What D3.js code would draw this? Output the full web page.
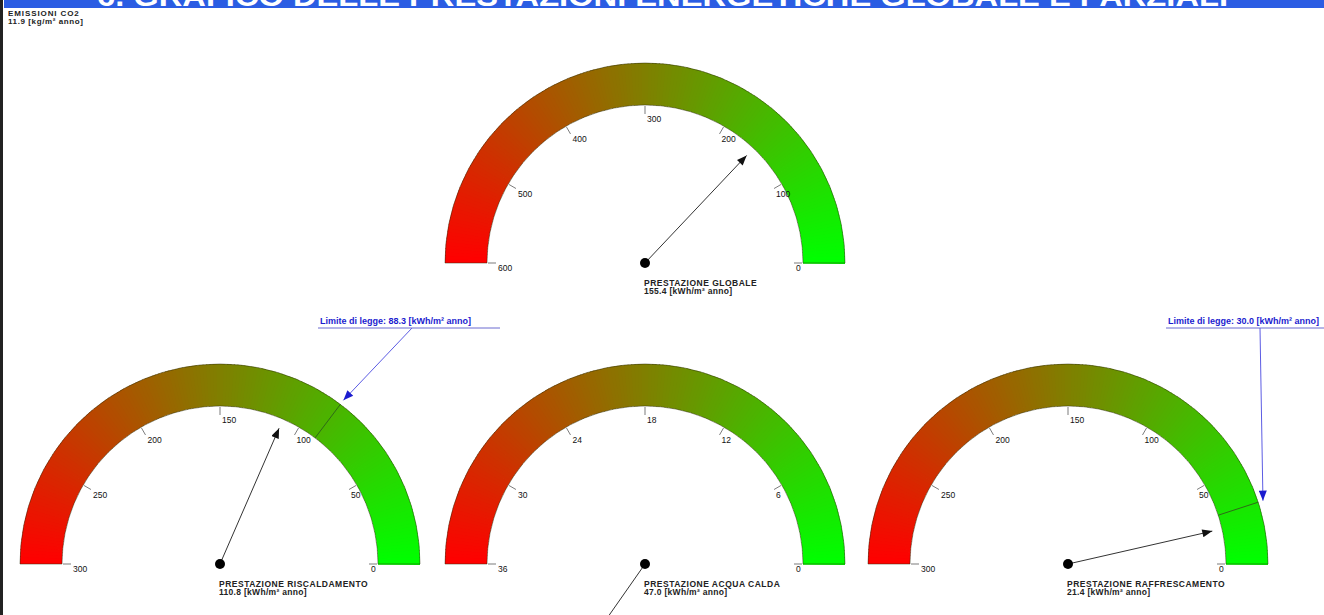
<!DOCTYPE html>
<html>
    <head>
        <meta lang="it" charset="utf-8">
        <style>
            body { margin: 0; background: white; }
            svg { display: block; font-family: 'Liberation Sans', Arial, sans-serif; }
        </style>
    </head>
    <body>
        <div id="d3render"></div>
    </body>
    <script src="https://d3js.org/d3.v7.min.js"></script>
    <script>
        // values
        const titleText = '6. GRAFICO DELLE PRESTAZIONI ENERGETICHE GLOBALE E PARZIALI';
        const emissionLabel = 'EMISSIONI CO2';
        const emissionValue = '11.9 [kg/m² anno]';
        const unitLabel = '[kWh/m² anno]';

        const gaugeNames = ['PRESTAZIONE GLOBALE', 'PRESTAZIONE RISCALDAMENTO', 'PRESTAZIONE ACQUA CALDA', 'PRESTAZIONE RAFFRESCAMENTO'];
        const gaugeMax = [600, 300, 36, 300];
        const gaugeTicks = [
            [0, 100, 200, 300, 400, 500, 600],
            [0, 50, 100, 150, 200, 250, 300],
            [0, 6, 12, 18, 24, 30, 36],
            [0, 50, 100, 150, 200, 250, 300]
        ];
        const gaugeValues = [155.4, 110.8, 47.0, 21.4];
        const limitValues = [null, 88.3, null, 30.0];

        const width = 1324;
        const height = 615;

        // gauge centres (layout only)
        const centers = [[645, 263], [220, 564], [645, 564], [1068, 564]];
        const outerR = 200;
        const innerR = 158;
        const needleLen = 148;

        const svg = d3.select('#d3render')
            .append('svg')
            .attr('width', width)
            .attr('height', height)
            .attr('viewBox', [0, 0, width, height])
            .style('background-color', 'white');

        const defs = svg.append('defs');
        defs.append('marker')
            .attr('id', 'needleHead')
            .attr('viewBox', '0 0 10 8')
            .attr('refX', 10)
            .attr('refY', 4)
            .attr('markerWidth', 11)
            .attr('markerHeight', 8)
            .attr('markerUnits', 'userSpaceOnUse')
            .attr('orient', 'auto')
            .append('path')
            .attr('d', 'M0,0 L10,4 L0,8 Z')
            .attr('fill', '#111');
        defs.append('marker')
            .attr('id', 'limitHead')
            .attr('viewBox', '0 0 10 8')
            .attr('refX', 10)
            .attr('refY', 4)
            .attr('markerWidth', 11)
            .attr('markerHeight', 8)
            .attr('markerUnits', 'userSpaceOnUse')
            .attr('orient', 'auto')
            .append('path')
            .attr('d', 'M0,0 L10,4 L0,8 Z')
            .attr('fill', '#1c1ccf');

        // title band, text mostly cut off by the top edge as in the source
        svg.append('rect')
            .attr('x', 4)
            .attr('y', 0)
            .attr('width', width)
            .attr('height', 8)
            .attr('fill', '#2b5de3');
        svg.append('text')
            .attr('x', 97)
            .attr('y', 6)
            .attr('textLength', 1131)
            .attr('lengthAdjust', 'spacingAndGlyphs')
            .attr('font-size', 30)
            .attr('font-weight', 'bold')
            .attr('fill', 'white')
            .text(titleText);

        svg.append('rect')
            .attr('x', 0)
            .attr('y', 0)
            .attr('width', 3)
            .attr('height', height)
            .attr('fill', '#222');

        svg.append('text')
            .attr('x', 8)
            .attr('y', 16)
            .attr('font-size', 8)
            .attr('font-weight', 'bold')
            .attr('letter-spacing', 0.9)
            .attr('fill', '#222')
            .text(emissionLabel);
        svg.append('text')
            .attr('x', 8)
            .attr('y', 24)
            .attr('font-size', 8)
            .attr('font-weight', 'bold')
            .attr('letter-spacing', 0.6)
            .attr('fill', '#222')
            .text(emissionValue);

        const colorAt = d3.interpolateRgb('#ff0000', '#00ff00');
        const steps = 180;

        gaugeNames.forEach((name, i) => {
            const [cx, cy] = centers[i];
            // value 0 on the right, max on the left (d3.arc angles)
            const angle = d3.scaleLinear().domain([0, gaugeMax[i]]).range([Math.PI / 2, -Math.PI / 2]);
            const point = (a, r) => [r * Math.sin(a), -r * Math.cos(a)];

            const g = svg.append('g').attr('transform', `translate(${cx},${cy})`);

            const slices = d3.range(steps);
            const arc = d3.arc().innerRadius(innerR).outerRadius(outerR);
            g.selectAll('path.slice')
                .data(slices)
                .join('path')
                .attr('class', 'slice')
                .attr('d', (d) => arc({
                    startAngle: -Math.PI / 2 + d * Math.PI / steps,
                    endAngle: -Math.PI / 2 + (d + 1.3) * Math.PI / steps
                }))
                .attr('fill', (d) => colorAt(d / (steps - 1)));

            g.append('path')
                .attr('d', arc({ startAngle: -Math.PI / 2, endAngle: Math.PI / 2 }))
                .attr('fill', 'none')
                .attr('stroke', '#2a2a08')
                .attr('stroke-opacity', 0.6)
                .attr('stroke-width', 0.8);

            // ticks and labels inside the band
            gaugeTicks[i].forEach((t) => {
                const a = angle(t);
                const p0 = point(a, innerR - 1);
                const p1 = point(a, innerR - 9);
                g.append('line')
                    .attr('x1', p0[0]).attr('y1', p0[1])
                    .attr('x2', p1[0]).attr('y2', p1[1])
                    .attr('stroke', '#444')
                    .attr('stroke-width', 0.7);
                g.append('text')
                    .attr('x', p1[0] + 2)
                    .attr('y', p1[1] + 2)
                    .attr('dominant-baseline', 'hanging')
                    .attr('font-size', 8.5)
                    .attr('fill', '#111')
                    .text(t);
            });

            // limit marker
            if (limitValues[i] !== null) {
                const a = angle(limitValues[i]);
                const b0 = point(a, innerR);
                const b1 = point(a, outerR);
                g.append('line')
                    .attr('x1', b0[0]).attr('y1', b0[1])
                    .attr('x2', b1[0]).attr('y2', b1[1])
                    .attr('stroke', '#2f6a18')
                    .attr('stroke-width', 1);
                const tip = point(a, outerR + 5);
                g.append('line')
                    .attr('x1', 192).attr('y1', -236)
                    .attr('x2', tip[0]).attr('y2', tip[1])
                    .attr('stroke', '#4a4ae0')
                    .attr('stroke-width', 0.9)
                    .attr('marker-end', 'url(#limitHead)');
                g.append('line')
                    .attr('x1', 98).attr('x2', 280)
                    .attr('y1', -236).attr('y2', -236)
                    .attr('stroke', '#6a6ad0')
                    .attr('stroke-width', 1);
                g.append('text')
                    .attr('x', 100)
                    .attr('y', -240)
                    .attr('font-size', 9)
                    .attr('font-weight', 'bold')
                    .attr('fill', '#1c1ccf')
                    .text(`Limite di legge: ${limitValues[i].toFixed(1)} ${unitLabel}`);
            }

            // needle
            const n = point(angle(gaugeValues[i]), needleLen);
            g.append('line')
                .attr('x1', 0).attr('y1', 0)
                .attr('x2', n[0]).attr('y2', n[1])
                .attr('stroke', '#333')
                .attr('stroke-width', 1)
                .attr('marker-end', 'url(#needleHead)');
            g.append('circle')
                .attr('r', 5)
                .attr('fill', '#000');

            g.append('text')
                .attr('x', -1)
                .attr('y', 23)
                .attr('font-size', 8.5)
                .attr('font-weight', 'bold')
                .attr('letter-spacing', 0.5)
                .attr('fill', '#222')
                .text(name);
            g.append('text')
                .attr('x', -1)
                .attr('y', 31)
                .attr('font-size', 8.5)
                .attr('font-weight', 'bold')
                .attr('letter-spacing', 0.3)
                .attr('fill', '#222')
                .text(`${gaugeValues[i].toFixed(1)} ${unitLabel}`);
        });
    </script>
</html>
